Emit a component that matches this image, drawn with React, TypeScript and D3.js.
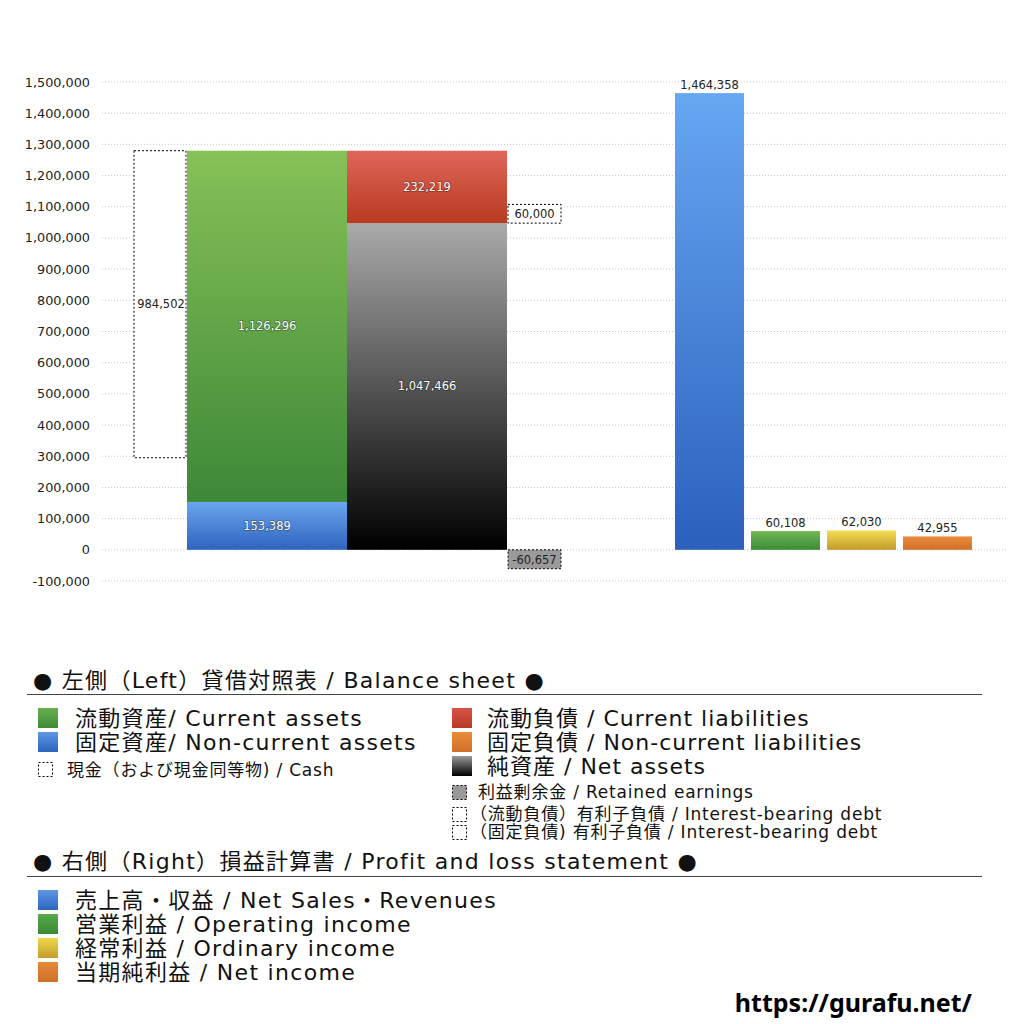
import React from "react";
import * as d3 from "d3";

// ---------- data ----------
const yTickValues = [-100000, 0, 100000, 200000, 300000, 400000, 500000, 600000, 700000, 800000, 900000, 1000000, 1100000, 1200000, 1300000, 1400000, 1500000];

const assetKeys = ["noncurrent", "current"];
const assetValues = [153389, 1126296];
const assetColors = [["#6aa6ee", "#2e63bf"], ["#87c157", "#3d8838"]];

const liabKeys = ["netAssets", "noncurrentLiab", "currentLiab"];
const liabValues = [1047466, 0, 232219];
const liabColors = [["#aaaaaa", "#000000"], ["#ea8c38", "#cf6c28"], ["#e0665a", "#b73a20"]];

const cashValue = 984502;
const retainedEarnings = -60657;
const interestDebtCurrent = 60000;

const plCategories = ["sales", "operating", "ordinary", "net"];
const plValues = [1464358, 60108, 62030, 42955];
const plColors = [["#67a7f2", "#2b60bd"], ["#72b854", "#3a8a36"], ["#f2dc52", "#c49b2c"], ["#eb8d3a", "#d06f2a"]];

const bsTitle = "● 左側（Left）貸借対照表 / Balance sheet ●";
const plTitle = "● 右側（Right）損益計算書 / Profit and loss statement ●";
const bsLegendLeft = [
  { label: "流動資産/ Current assets", c: ["#6ab04c", "#3d8a38"] },
  { label: "固定資産/ Non-current assets", c: ["#5c98e6", "#2e63bf"] },
];
const bsLegendRight = [
  { label: "流動負債 /  Current liabilities", c: ["#d8544a", "#b83a22"] },
  { label: "固定負債 / Non-current liabilities", c: ["#ea8c38", "#d06f2a"] },
  { label: "純資産 / Net assets", c: ["#9a9a9a", "#000000"] },
];
const cashLegend = "現金（および現金同等物) / Cash";
const smallRightLegend = [
  { label: "利益剰余金 / Retained earnings", fill: "#999999" },
  { label: "（流動負債）有利子負債 / Interest-bearing debt", fill: "none" },
  { label: "（固定負債) 有利子負債 / Interest-bearing debt", fill: "none" },
];
const plLegend = [
  { label: "売上高・収益 / Net Sales・Revenues", c: ["#5c98e6", "#2e63bf"] },
  { label: "営業利益 / Operating income", c: ["#5aa84a", "#3a8a36"] },
  { label: "経常利益 / Ordinary income", c: ["#f0d84c", "#c49b2c"] },
  { label: "当期純利益 / Net income", c: ["#e8883a", "#d06f2a"] },
];
const siteUrl = "https://gurafu.net/";

// ---------- layout ----------
const W = 1024, H = 1024;
const plotLeft = 102, plotRight = 1008;
const font = "'DejaVu Sans', 'Noto Sans CJK JP', sans-serif";
const fmt = d3.formatLocale({ decimal: ".", thousands: ",", grouping: [3], currency: ["", ""], minus: "-" }).format(",");

const y = d3.scaleLinear().domain([-100000, 1500000]).range([581, 82]);

const cashX = 134, cashW = 52;
const assetX = 187, colW = 160;
const liabX = 347;
const noteX = 508, noteW = 53;
const xPL = d3.scaleBand<string>().domain(plCategories).range([675, 972]).paddingInner(0.092);

function Grad({ id, c }: { id: string; c: string[] }) {
  return (
    <linearGradient id={id} x1="0" y1="0" x2="0" y2="1">
      <stop offset="0%" stopColor={c[0]} />
      <stop offset="100%" stopColor={c[1]} />
    </linearGradient>
  );
}

const inLabel = {
  fill: "#ffffff",
  fontSize: 11.5,
  textAnchor: "middle" as const,
  style: { paintOrder: "stroke" as const },
  stroke: "rgba(0,0,0,0.35)",
  strokeWidth: 1.5,
};

const bigText = { fontSize: 22, fill: "#111", letterSpacing: 1.3 };
const smallText = { fontSize: 17, fill: "#111", letterSpacing: 0.8 };

export default function App() {
  const assetStack: { y0: number; y1: number; v: number; i: number }[] = [];
  let acc = 0;
  assetValues.forEach((v, i) => { assetStack.push({ y0: acc, y1: acc + v, v, i }); acc += v; });
  const totalAssets = acc;
  const liabStack: { y0: number; y1: number; v: number; i: number }[] = [];
  acc = 0;
  liabValues.forEach((v, i) => { liabStack.push({ y0: acc, y1: acc + v, v, i }); acc += v; });
  const cashBottom = totalAssets - cashValue;
  const debtBottom = liabValues[0] + liabValues[1];

  return (
    <div style={{ position: "absolute", left: 0, top: 0 }}>
      <svg width={W} height={H} style={{ display: "block", background: "#fff" }} fontFamily={font}>
        <defs>
          {assetColors.map((c, i) => <Grad key={"a" + i} id={"ga" + i} c={c} />)}
          {liabColors.map((c, i) => <Grad key={"l" + i} id={"gl" + i} c={c} />)}
          {plColors.map((c, i) => <Grad key={"p" + i} id={"gp" + i} c={c} />)}
          {bsLegendLeft.map((d, i) => <Grad key={"bl" + i} id={"gbl" + i} c={d.c} />)}
          {bsLegendRight.map((d, i) => <Grad key={"br" + i} id={"gbr" + i} c={d.c} />)}
          {plLegend.map((d, i) => <Grad key={"pl" + i} id={"gpl" + i} c={d.c} />)}
        </defs>

        {/* grid + y axis */}
        {yTickValues.map((t) => (
          <g key={t}>
            <line x1={plotLeft} x2={plotRight} y1={y(t)} y2={y(t)} stroke="#c8c8c8" strokeWidth={1} strokeDasharray="1,2" />
            <text x={90} y={y(t) + 4.5} textAnchor="end" fontSize={12.8} fill="#222">{fmt(t)}</text>
          </g>
        ))}

        {/* cash box */}
        <rect x={cashX} y={y(totalAssets)} width={cashW} height={y(cashBottom) - y(totalAssets)} fill="#fff" stroke="#000" strokeDasharray="2,2" />
        <text x={cashX + cashW / 2 + 1} y={(y(totalAssets) + y(cashBottom)) / 2 + 4} textAnchor="middle" fontSize={11.5} fill="#222">{fmt(cashValue)}</text>

        {/* assets */}
        {assetStack.map((s) => (
          <g key={assetKeys[s.i]}>
            <rect x={assetX} y={y(s.y1)} width={colW} height={y(s.y0) - y(s.y1)} fill={`url(#ga${s.i})`} />
            <text {...inLabel} x={assetX + colW / 2} y={(y(s.y0) + y(s.y1)) / 2 + 4}>{fmt(s.v)}</text>
          </g>
        ))}

        {/* liabilities + net assets */}
        {liabStack.filter((s) => s.v > 0).map((s) => (
          <g key={liabKeys[s.i]}>
            <rect x={liabX} y={y(s.y1)} width={colW} height={y(s.y0) - y(s.y1)} fill={`url(#gl${s.i})`} />
            <text {...inLabel} x={liabX + colW / 2} y={(y(s.y0) + y(s.y1)) / 2 + 4}>{fmt(s.v)}</text>
          </g>
        ))}

        {/* interest-bearing debt */}
        <rect x={noteX} y={y(debtBottom + interestDebtCurrent)} width={noteW} height={y(debtBottom) - y(debtBottom + interestDebtCurrent)} fill="#fff" stroke="#000" strokeDasharray="2,2" />
        <text x={noteX + noteW / 2} y={(y(debtBottom) + y(debtBottom + interestDebtCurrent)) / 2 + 4.5} textAnchor="middle" fontSize={11.5} fill="#222">{fmt(interestDebtCurrent)}</text>

        {/* retained earnings */}
        <rect x={noteX} y={y(0)} width={noteW} height={y(retainedEarnings) - y(0)} fill="#9a9a9a" stroke="#000" strokeDasharray="2,2" />
        <text x={noteX + noteW / 2} y={(y(0) + y(retainedEarnings)) / 2 + 4.5} textAnchor="middle" fontSize={11.5} fill="#222">{fmt(retainedEarnings)}</text>

        {/* P&L bars */}
        {plCategories.map((c, i) => (
          <g key={c}>
            <rect x={xPL(c)} y={y(plValues[i])} width={xPL.bandwidth()} height={y(0) - y(plValues[i])} fill={`url(#gp${i})`} />
            <text x={(xPL(c) as number) + xPL.bandwidth() / 2} y={y(plValues[i]) - 4} textAnchor="middle" fontSize={11.5} fill="#222">{fmt(plValues[i])}</text>
          </g>
        ))}

        {/* legend: balance sheet */}
        <text x={33} y={688} {...bigText}>{bsTitle}</text>
        <line x1={27} x2={982} y1={694.5} y2={694.5} stroke="#444" strokeWidth={1} />
        {bsLegendLeft.map((d, i) => (
          <g key={d.label}>
            <rect x={38} y={708 + i * 24} width={20} height={20} fill={`url(#gbl${i})`} />
            <text x={75} y={726 + i * 24} {...bigText}>{d.label}</text>
          </g>
        ))}
        <rect x={38.5} y={762.5} width={14} height={14} fill="none" stroke="#000" strokeDasharray="2,2" />
        <text x={67} y={776} {...smallText}>{cashLegend}</text>

        {bsLegendRight.map((d, i) => (
          <g key={d.label}>
            <rect x={452} y={708 + i * 24} width={20} height={20} fill={`url(#gbr${i})`} />
            <text x={487} y={726 + i * 24} {...bigText} letterSpacing={1.0}>{d.label}</text>
          </g>
        ))}
        {smallRightLegend.map((d, i) => {
          const yy = i === 0 ? 785 : 785 + 22 + (i - 1) * 18;
          return (
            <g key={d.label}>
              <rect x={452.5} y={yy + 0.5} width={14} height={14} fill={d.fill} stroke="#000" strokeDasharray="2,2" />
              <text x={i === 0 ? 478 : 470} y={yy + 13} {...smallText}>{d.label}</text>
            </g>
          );
        })}

        {/* legend: P&L */}
        <text x={33} y={869} {...bigText}>{plTitle}</text>
        <line x1={27} x2={982} y1={876.5} y2={876.5} stroke="#444" strokeWidth={1} />
        {plLegend.map((d, i) => (
          <g key={d.label}>
            <rect x={38} y={890 + i * 24} width={20} height={20} fill={`url(#gpl${i})`} />
            <text x={75} y={908 + i * 24} {...bigText}>{d.label}</text>
          </g>
        ))}

        <text x={972} y={1012} textAnchor="end" fontSize={25} fontWeight="bold" fill="#000" fontFamily="'Noto Sans', sans-serif">{siteUrl}</text>
      </svg>
    </div>
  );
}
